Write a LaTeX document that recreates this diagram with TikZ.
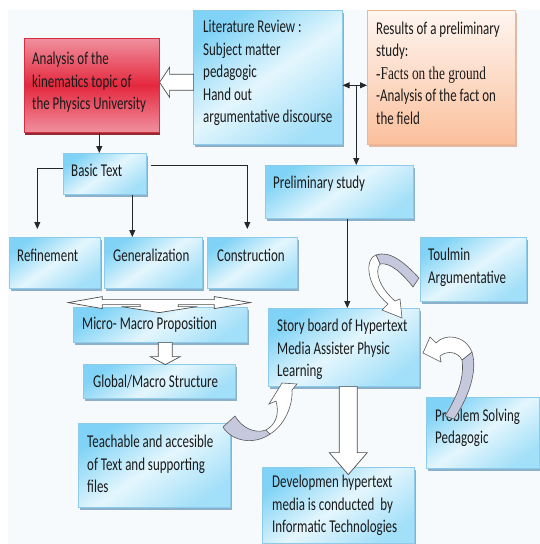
\documentclass[tikz,border=0pt]{standalone}
\usepackage{fontspec}
\setmainfont[FakeStretch=0.72]{Carlito}
\newfontfamily\tnrfont[FakeStretch=0.74]{Liberation Serif}
\usetikzlibrary{arrows.meta,shadows}
\definecolor{bluedark}{HTML}{80D3F6}
\definecolor{bluelight}{HTML}{E4F6FD}
\definecolor{bluebot}{HTML}{A2DFF8}
\definecolor{blueedge}{HTML}{8CCBEA}
\definecolor{blueshadow}{HTML}{6A98BA}
\definecolor{redtop}{HTML}{F0909E}
\definecolor{redmid}{HTML}{E4283E}
\definecolor{rededge}{HTML}{D0303F}
\definecolor{redshadow}{HTML}{8A1420}
\definecolor{peachtop}{HTML}{FEF6F1}
\definecolor{peachbot}{HTML}{FBC09C}
\definecolor{peachedge}{HTML}{F2B48C}
\definecolor{peachshadow}{HTML}{D8A080}
\definecolor{lav}{HTML}{C6C8DD}
\definecolor{bgc}{HTML}{F7FAFC}
\definecolor{txtc}{HTML}{1A1A1A}
\tikzset{
  bbox/.style={draw=blueedge, line width=0.6pt, top color=bluedark, bottom color=bluebot,
    middle color=bluelight, shading angle=35,
    drop shadow={shadow xshift=1.5pt, shadow yshift=-2.5pt, fill=blueshadow, opacity=0.75},
    anchor=north west, inner sep=0pt},
  rbox/.style={draw=rededge, line width=0.6pt, top color=redtop, bottom color=redtop,
    middle color=redmid,
    drop shadow={shadow xshift=0.5pt, shadow yshift=-3pt, fill=redshadow, opacity=0.9},
    anchor=north west, inner sep=0pt},
  pbox/.style={draw=peachedge, line width=0.6pt, top color=peachtop, bottom color=peachbot,
    drop shadow={shadow xshift=1.5pt, shadow yshift=-2.5pt, fill=peachshadow, opacity=0.7},
    anchor=north west, inner sep=0pt},
  txt/.style={anchor=west, align=left, inner sep=0pt, text=txtc,
    font=\fontsize{18}{22.5}\selectfont},
  conn/.style={draw=black!85, line width=0.8pt},
  tip/.style={-{Triangle[length=7pt,width=6pt]}},
  hollow/.style={draw=black!70, fill=white, line width=0.7pt, line join=miter},
  band/.style={draw=black!65, fill=lav, line width=0.6pt, line join=round},
  whiteband/.style={draw=black!65, fill=white, line width=0.6pt, line join=miter},
}
\begin{document}
\begin{tikzpicture}[x=1pt,y=-1pt]
\useasboundingbox (0,0) rectangle (540,544);
\fill[bgc] (8,10) rectangle (540,544);

% boxes
\node[rbox, minimum width=135pt, minimum height=94pt] (anal) at (24,38) {};
\node[bbox, minimum width=149pt, minimum height=134pt] (lit) at (193,10) {};
\node[pbox, minimum width=148pt, minimum height=134pt] (res) at (367,10) {};
\node[bbox, minimum width=83pt, minimum height=41pt] (basic) at (63,153) {};
\node[bbox, minimum width=91pt, minimum height=51pt] (refine) at (9,237) {};
\node[bbox, minimum width=98pt, minimum height=51pt] (gen) at (104,237) {};
\node[bbox, minimum width=90pt, minimum height=51pt] (con) at (207,237) {};
\node[bbox, minimum width=174pt, minimum height=35pt] (micro) at (73,307) {};
\node[bbox, minimum width=152pt, minimum height=34pt] (glob) at (83,364) {};
\node[bbox, minimum width=148pt, minimum height=53pt] (prelim) at (265,165) {};
\node[bbox, minimum width=106pt, minimum height=64pt] (toul) at (420,237) {};
\node[bbox, minimum width=151pt, minimum height=78pt] (story) at (268,308) {};
\node[bbox, minimum width=113pt, minimum height=71pt] (prob) at (426,397) {};
\node[bbox, minimum width=152pt, minimum height=84pt] (teach) at (78,423) {};
\node[bbox, minimum width=152pt, minimum height=76pt] (dev) at (262,467) {};

% texts
\node[txt] (analT) at ([xshift=8pt,yshift=3pt]anal.west) {Analysis of the\\kinematics topic of\\the Physics University};
\node[txt] (litT) at ([xshift=10pt,yshift=4pt]lit.west) {Literature Review :\\Subject matter\\pedagogic\\Hand out\\argumentative discourse};
\node[txt] (resT) at ([xshift=9pt,yshift=4pt]res.west) {Results of a preliminary\\study:\\{\tnrfont\fontsize{18}{22.5}\selectfont -Facts on the ground}\\-Analysis of the fact on\\the field};
\node[txt] (basicT) at ([xshift=8pt,yshift=3pt]basic.west) {Basic Text};
\node[txt] (refineT) at ([xshift=8pt,yshift=7pt]refine.west) {Refinement};
\node[txt] (genT) at ([xshift=9pt,yshift=7pt]gen.west) {Generalization};
\node[txt] (conT) at ([xshift=10pt,yshift=7pt]con.west) {Construction};
\node[txt] (microT) at ([xshift=9pt]micro.west) {Micro- Macro Proposition};
\node[txt] (globT) at ([xshift=10pt]glob.west) {Global/Macro Structure};
\node[txt] (prelimT) at ([xshift=8pt,yshift=8pt]prelim.west) {Preliminary study};
\node[txt] (toulT) at ([xshift=8pt,yshift=2pt]toul.west) {Toulmin\\Argumentative};
\node[txt] (storyT) at ([xshift=9pt,yshift=-2pt]story.west) {Story board of Hypertext\\Media Assister Physic\\Learning};
\node[txt] (probT) at ([xshift=9pt,yshift=5pt]prob.west) {Problem Solving\\Pedagogic};
\node[txt] (teachT) at ([xshift=9pt,yshift=1pt]teach.west) {Teachable and accesible\\of Text and supporting\\files};
\node[txt] (devT) at ([xshift=10pt]dev.west) {Developmen hypertext\\media is conducted\ \ by\\Informatic Technologies};

% line connectors
\draw[conn,tip] ([xshift=7.5pt]anal.south) -- ([xshift=7.5pt]anal.south |- basic.north);
\draw[conn,tip] ([yshift=5.5pt]basic.west) -| ([xshift=-17.5pt,yshift=8pt]refine.north);
\draw[conn,tip] ([xshift=27.5pt]basic.south) -- ([xshift=27.5pt]basic.south |- gen.north);
\draw[conn,tip] ([xshift=4pt,yshift=8.5pt]basic.east) -| ([xshift=-5pt,yshift=8pt]con.north);
\draw[conn,{Triangle[length=7pt,width=6pt]}-{Triangle[length=7pt,width=6pt]}]
  ([yshift=-8pt]lit.east) -- coordinate[pos=0.56] (mid) ([yshift=-8pt]lit.east -| res.west);
\draw[conn,tip] (mid) -- (mid |- prelim.north);
\draw[conn,tip] ([xshift=8pt]prelim.south) -- ([xshift=8pt]prelim.south |- story.north);

% hollow block arrows
\coordinate (ta) at ([yshift=3pt]anal.east);
\draw[hollow] (ta) -- ++(10,-15) -- ++(0,7) -- ++(24,0) -- ++(0,16) -- ++(-24,0) -- ++(0,7) -- cycle;
\coordinate (tl) at ([xshift=-85pt,yshift=-14pt]gen.south);
\draw[hollow] (tl) -- ++(34,-6) -- ++(0,3) -- ++(112,0) -- ++(0,-3) -- ++(36,6) -- ++(-36,6)
  -- ++(0,-4) -- ++(-36,0) -- ++(0,2) -- ++(19,0) -- ++(-38,6) -- ++(-38,-6) -- ++(19,0)
  -- ++(0,-2) -- ++(-38,0) -- ++(0,4) -- cycle;
\draw[hollow] ([xshift=-2pt]micro.south) -- ++(0,14) -- ++(-8,0) -- ++(15,8) -- ++(15,-8)
  -- ++(-8,0) -- ++(0,-14) -- cycle;
\draw[hollow] ([xshift=-4.5pt]story.south) -- ++(0,66) -- ++(-10,0) -- ++(19,22) -- ++(19,-22)
  -- ++(-10,0) -- ++(0,-66) -- cycle;

% curved arrows
% Toulmin -> Story board
\draw[band] (376,255) .. controls (390,250) and (405,263) .. (419,278) -- (413,287)
  .. controls (402,273) and (390,262) .. (380,264) -- cycle;
\draw[whiteband] (376,255) .. controls (365,258) and (365,285) .. (388,304) -- (382,310)
  -- (402,318) -- (400,299) -- (395,301) .. controls (380,288) and (374,272) .. (380,264) -- cycle;
% Problem Solving -> Story board
\draw[band] (445,416) .. controls (455,400) and (465,380) .. (462,360) -- (472,352)
  .. controls (478,372) and (468,398) .. (454,419) -- cycle;
\draw[whiteband] (472,352) .. controls (465,335) and (445,333) .. (436,343) -- (430,337)
  -- (423,353) -- (441,362) -- (440,356) .. controls (448,350) and (458,352) .. (462,360) -- cycle;
% Teachable -> Story board
\draw[band] (223,427) .. controls (232,442) and (255,445) .. (270,434) -- (266,430)
  .. controls (255,434) and (242,428) .. (235,416) -- cycle;
\draw[whiteband] (270,434) .. controls (285,425) and (293,405) .. (292,390) -- (297,384)
  -- (282,383) -- (269,404) -- (276,401) .. controls (280,415) and (275,425) .. (266,430) -- cycle;
\end{tikzpicture}
\end{document}
